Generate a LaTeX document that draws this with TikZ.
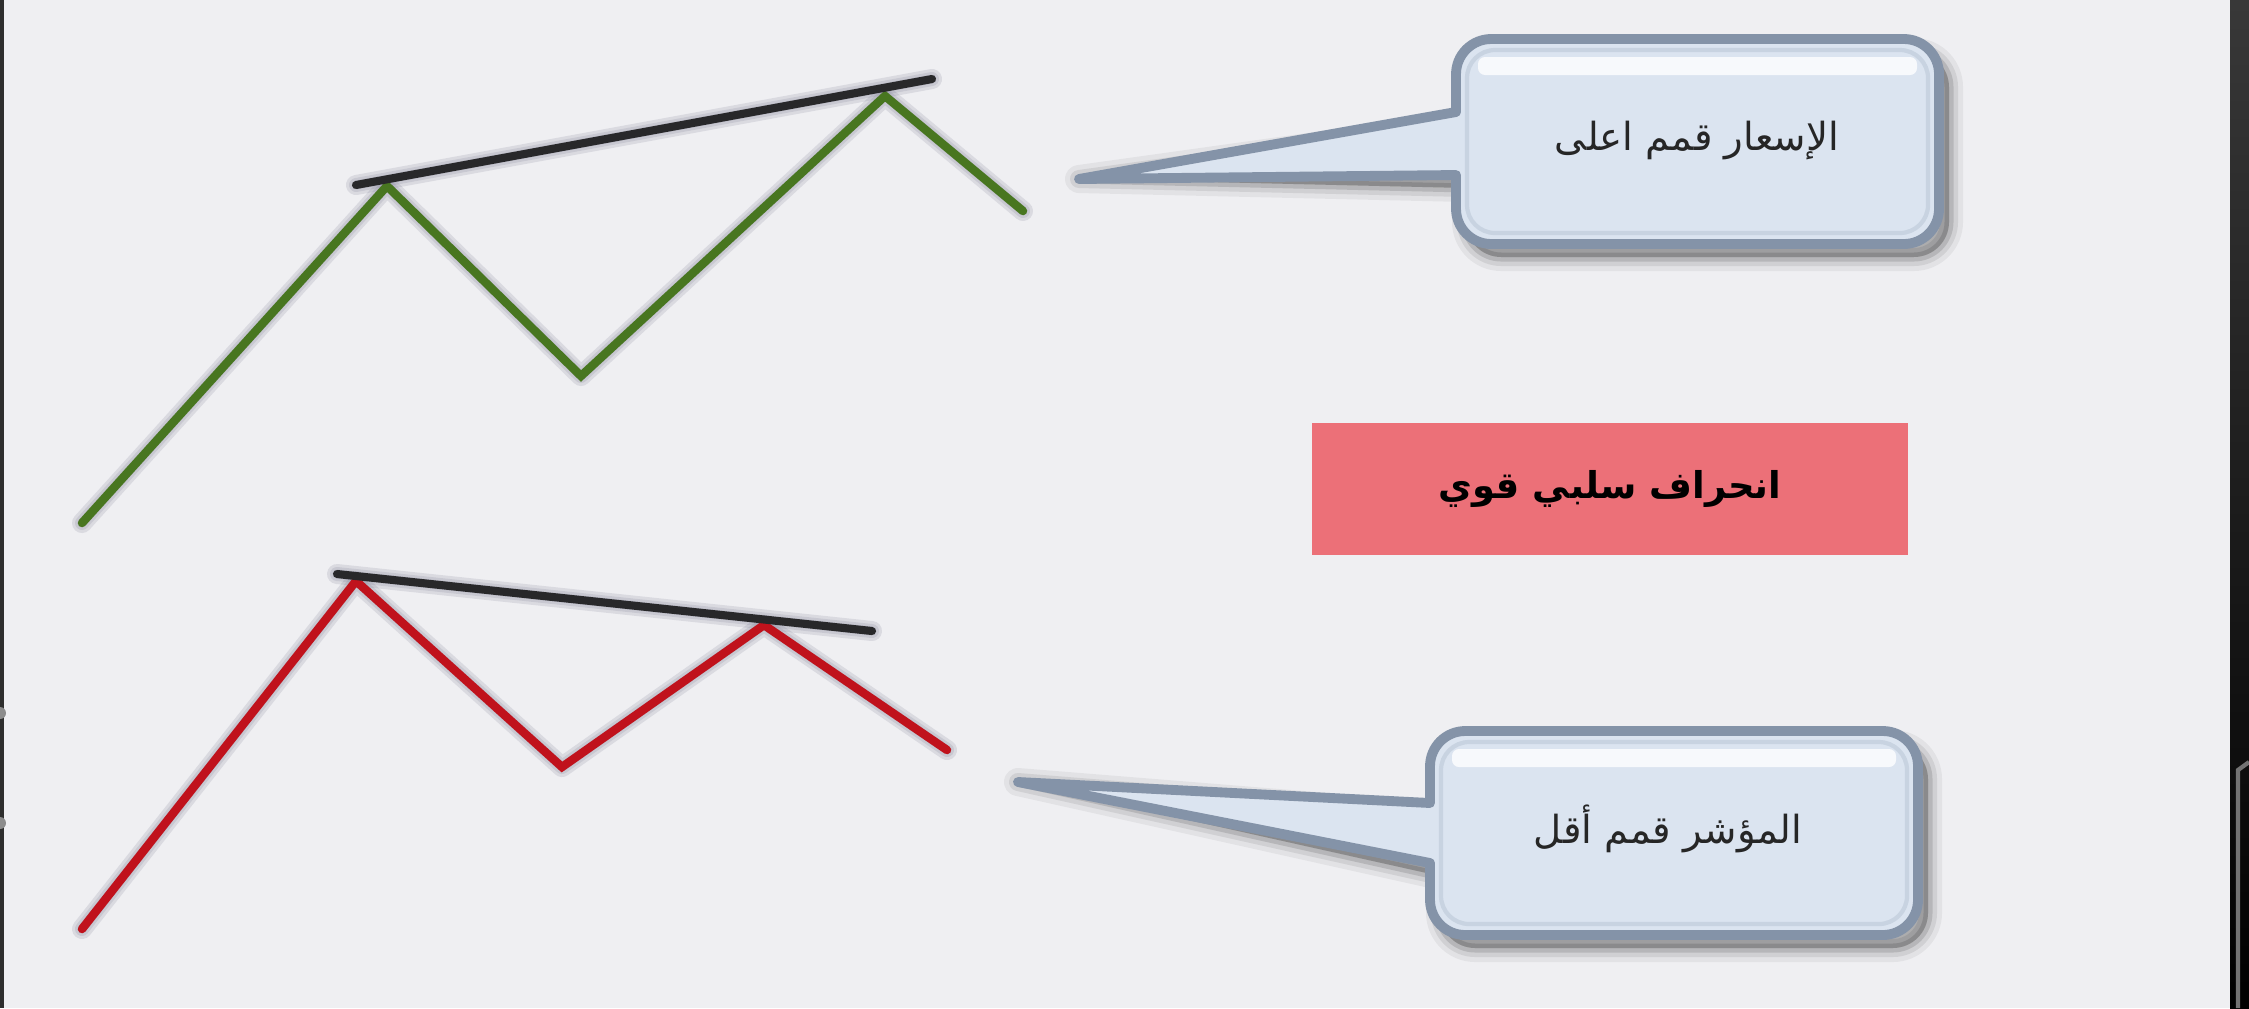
\documentclass[tikz,border=0pt]{standalone}
\usepackage{fontspec}
\newfontfamily\arabicfont[Script=Arabic]{DejaVu Sans}
\TeXXeTstate=1
\definecolor{bgc}{RGB}{239,239,242}
\definecolor{greenline}{RGB}{72,118,32}
\definecolor{redline}{RGB}{192,18,28}
\definecolor{trend}{RGB}{40,40,42}
\definecolor{boxred}{RGB}{236,112,120}
\definecolor{calfill}{RGB}{219,228,240}
\definecolor{calborder}{RGB}{132,147,168}
\definecolor{calinner}{RGB}{200,211,225}
\definecolor{shadowc}{RGB}{110,110,135}
\tikzset{
  shadowline/.style={draw=shadowc, line width=#1, opacity=0.16, line cap=round, line join=round},
  greenpath/.style={draw=greenline, line width=2.4pt, line join=miter, line cap=round},
  redpath/.style={draw=redline, line width=2.4pt, line join=miter, line cap=round},
  trendline/.style={draw=trend, line width=2.3pt, line cap=round},
  calloutshadow/.style={fill=black, draw=black, line join=round},
  calloutbody/.style={fill=calfill, draw=calborder, line width=2.8pt, line join=round},
  arabictext/.style={font=\arabicfont\fontsize{11}{13}\selectfont, text=black!85},
}
\begin{document}
\begin{tikzpicture}[x=0.01cm,y=-0.01cm]
\fill[bgc] (0,0) rectangle (2249,1008);
\useasboundingbox (0,0) rectangle (2249,1008);
% screen edges
\fill[black!82] (0,0) rectangle (4,1008);
\shade[top color=black!78, bottom color=black] (2230,0) rectangle (2249,1008);
\draw[black!55, line width=1.2pt] (2238,1008) -- (2238,770) -- (2249,762);
\fill[black!45] (0,713) circle (6);
\fill[black!45] (0,823) circle (6);

% coordinates
\coordinate (g0) at (82,523);
\coordinate (g1) at (387,186);
\coordinate (g2) at (581,376);
\coordinate (g3) at (885,96);
\coordinate (g4) at (1023,211);
\coordinate (a1) at (356,185);
\coordinate (a2) at (932,79);
\coordinate (r0) at (82,929);
\coordinate (r1) at (356,581);
\coordinate (r2) at (562,767);
\coordinate (r3) at (764,625);
\coordinate (r4) at (947,750);
\coordinate (b1) at (337,574);
\coordinate (b2) at (872,631);

% shadows of lines
\foreach \w in {20,14,9}{
  \begin{scope}[shift={(9,11)}]
    \draw[shadowline=\w*0.2845pt] (g0) -- (g1) -- (g2) -- (g3) -- (g4);
    \draw[shadowline=\w*0.2845pt] (a1) -- (a2);
    \draw[shadowline=\w*0.2845pt] (r0) -- (r1) -- (r2) -- (r3) -- (r4);
    \draw[shadowline=\w*0.2845pt] (b1) -- (b2);
  \end{scope}
}
% lines
\draw[greenpath] (g0) -- (g1) -- (g2) -- (g3) -- (g4);
\draw[trendline] (a1) -- (a2);
\draw[redpath] (r0) -- (r1) -- (r2) -- (r3) -- (r4);
\draw[trendline] (b1) -- (b2);

% callout 1
\coordinate (t1) at (1079,179);
\foreach \w/\o in {28/0.05,18/0.08,9/0.12}{
  \path[calloutshadow, opacity=\o, line width=\w*0.2845pt, shift={(10,13)}]
    (t1) -- (1456,112) [rounded corners=10pt] -- (1456,39) -- (1939,39) -- (1939,244) -- (1456,244) [sharp corners] -- (1456,175) -- cycle;
}
\path[calloutbody]
  (t1) -- (1456,112) [rounded corners=10pt] -- (1456,39) -- (1939,39) -- (1939,244) -- (1456,244) [sharp corners] -- (1456,175) -- cycle;
\draw[calinner, line width=1.2pt, rounded corners=8pt] (1467,50) rectangle (1928,233);
\fill[white, opacity=0.8, rounded corners=2pt] (1478,57) rectangle (1917,75);
\node[arabictext] (c1) at (1697,141) {\beginR الإسعار قمم اعلى\endR};

% callout 2
\coordinate (t2) at (1018,782);
\foreach \w/\o in {28/0.05,18/0.08,9/0.12}{
  \path[calloutshadow, opacity=\o, line width=\w*0.2845pt, shift={(10,13)}]
    (t2) -- (1430,803) [rounded corners=10pt] -- (1430,731) -- (1918,731) -- (1918,935) -- (1430,935) [sharp corners] -- (1430,863) -- cycle;
}
\path[calloutbody]
  (t2) -- (1430,803) [rounded corners=10pt] -- (1430,731) -- (1918,731) -- (1918,935) -- (1430,935) [sharp corners] -- (1430,863) -- cycle;
\draw[calinner, line width=1.2pt, rounded corners=8pt] (1441,742) rectangle (1907,924);
\fill[white, opacity=0.8, rounded corners=2pt] (1452,749) rectangle (1896,767);
\node[arabictext] (c2) at (1668,829) {\beginR المؤشر قمم أقل\endR};

% red box
\node[fill=boxred, minimum width=596*0.01cm, minimum height=132*0.01cm, inner sep=0pt,
      font=\arabicfont\bfseries\fontsize{10.5}{13}\selectfont, text=black] (rb) at (1610,489)
      {\beginR انحراف سلبي قوي\endR};
\end{tikzpicture}
\end{document}
